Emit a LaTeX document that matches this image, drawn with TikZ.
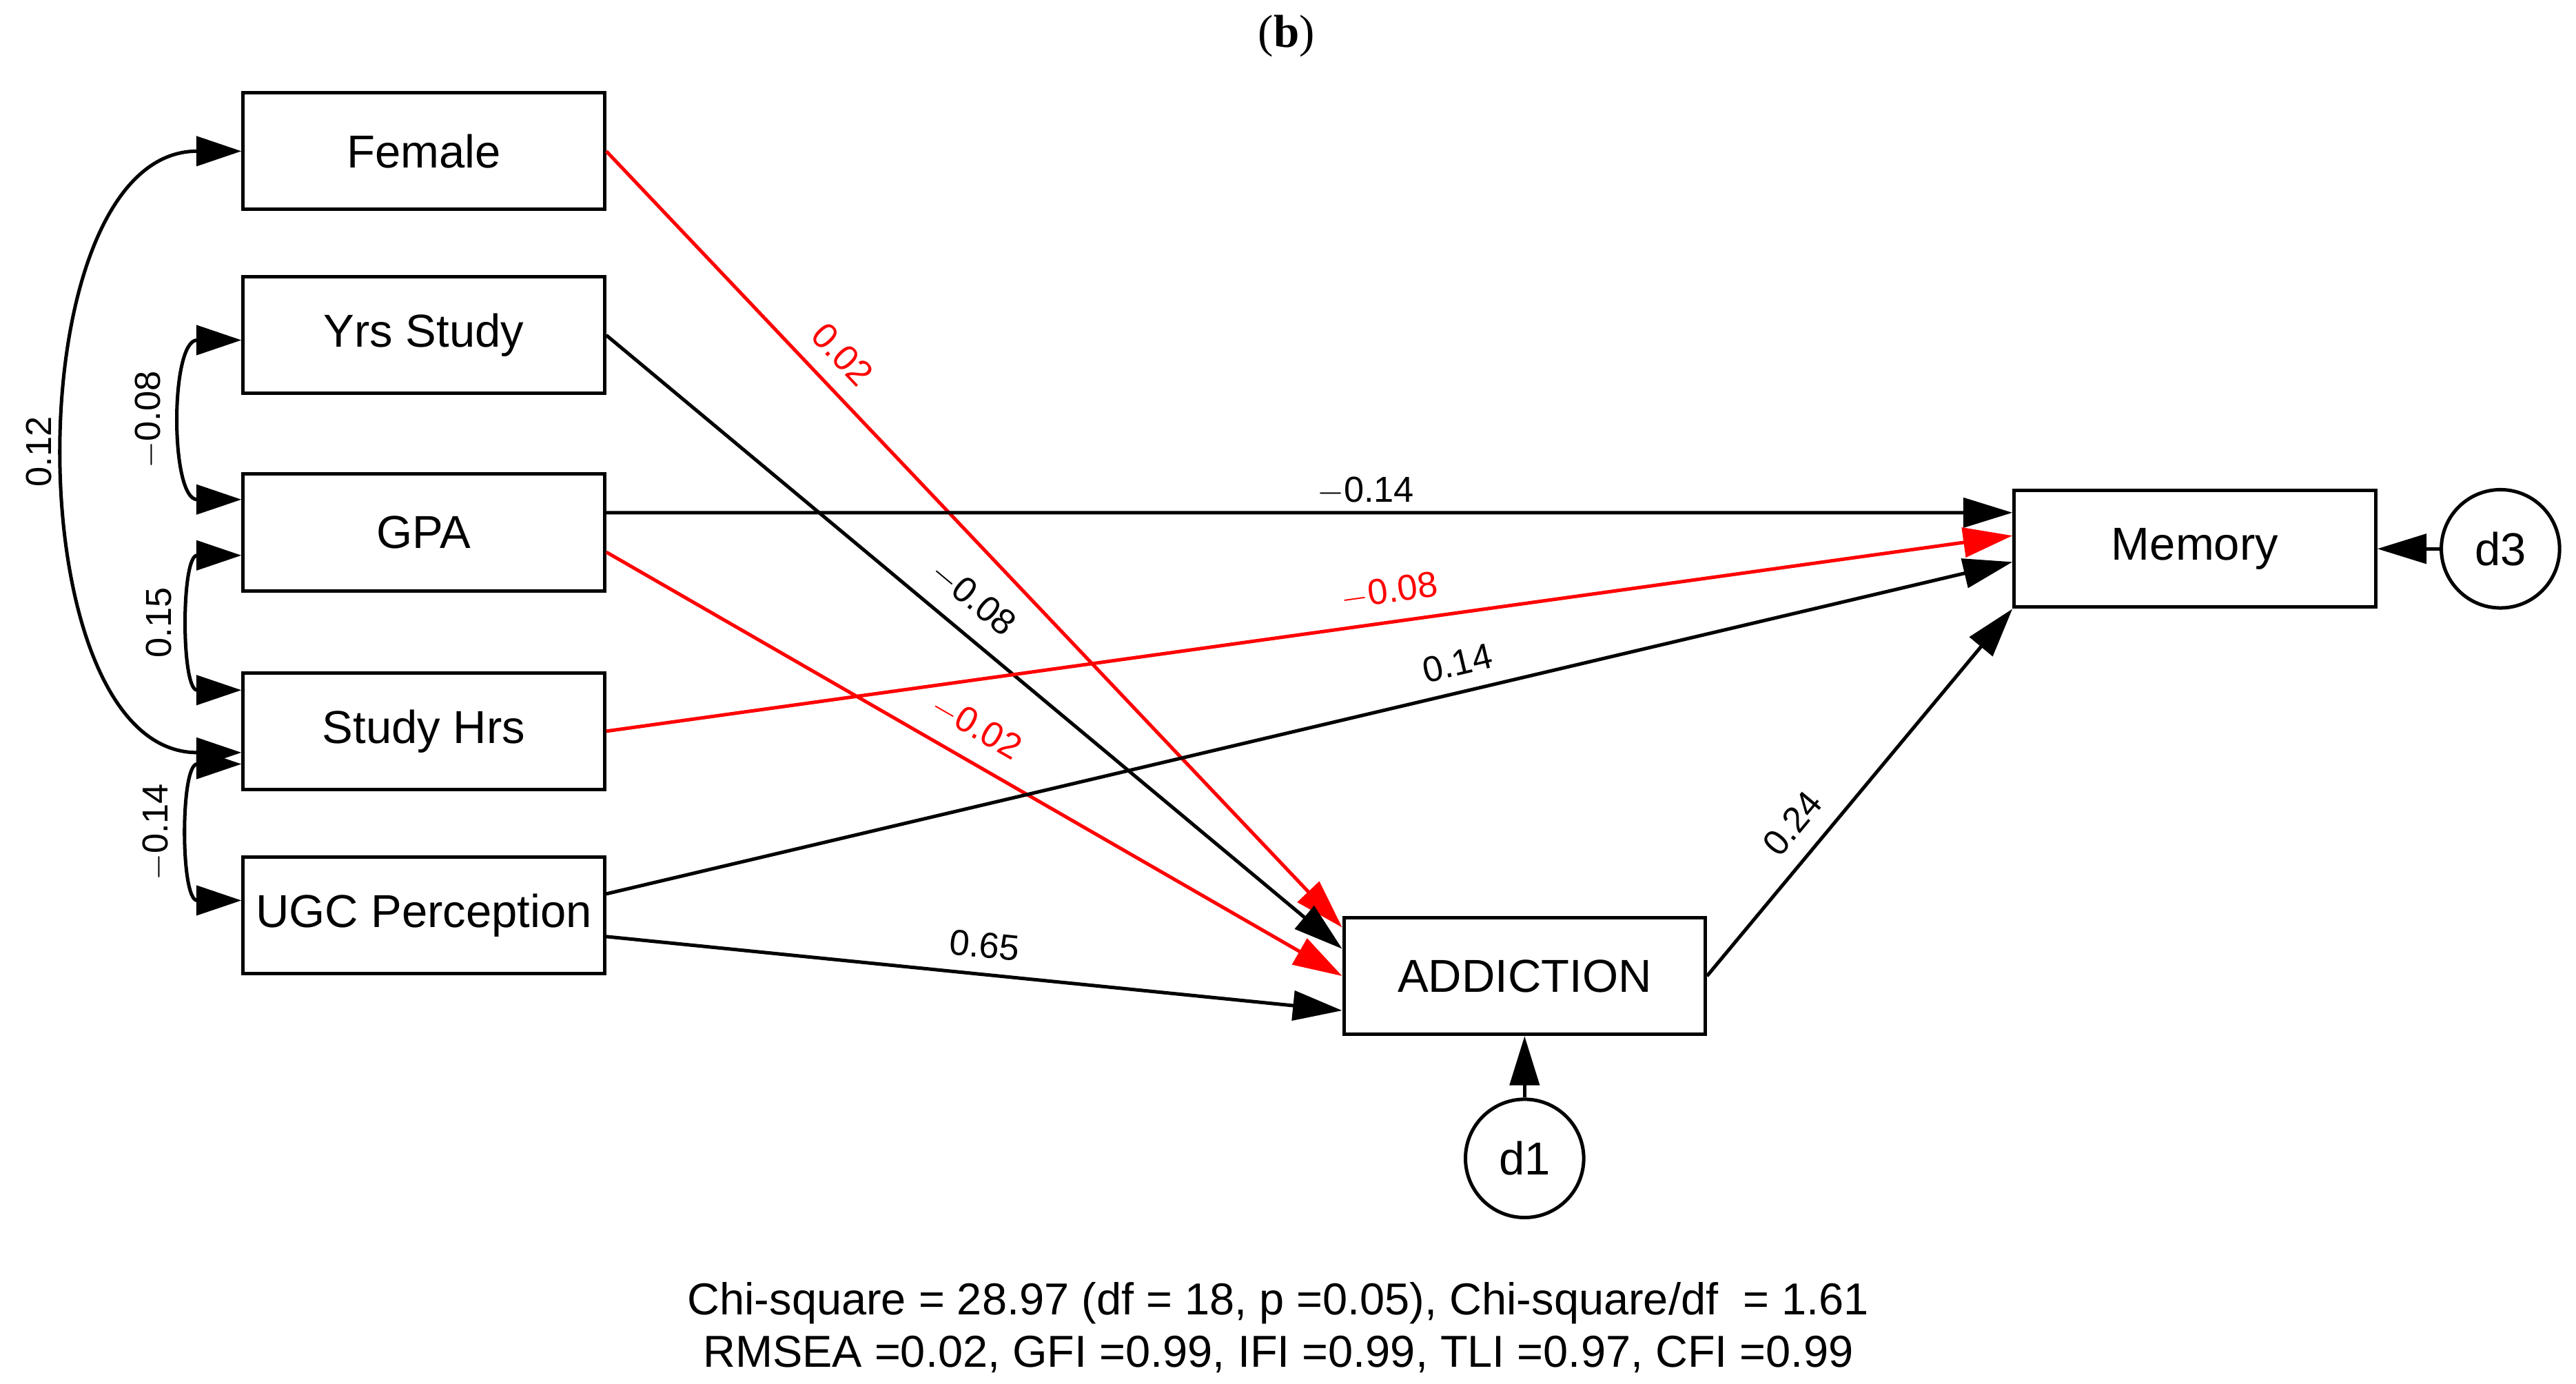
\documentclass[tikz,border=0pt]{standalone}
\usepackage{fontspec}
\setmainfont{Liberation Sans}
\newfontfamily\serifttl{Liberation Serif}
\usetikzlibrary{arrows.meta,positioning,calc}
\tikzstyle{arrow} = [line width=1.2pt, -{Triangle[length=0.6cm,width=0.36cm]}]
\tikzstyle{cov} = [line width=1.2pt, {Triangle[length=0.55cm,width=0.36cm]}-{Triangle[length=0.55cm,width=0.36cm]}]
\begin{document}
\begin{tikzpicture}[x=0.02cm,y=-0.02cm,
  var/.style={draw,line width=1.2pt,minimum width=4.4cm,minimum height=1.42cm,inner sep=0pt,font=\fontsize{16}{19}\selectfont},
  err/.style={draw,line width=1.2pt,circle,minimum size=1.44cm,inner sep=0pt,font=\fontsize{16}{19}\selectfont},
  lab/.style={font=\fontsize{12.5}{15}\selectfont,sloped,above,inner sep=2pt}]
\useasboundingbox (0,0) rectangle (1568,842);
\node[font=\fontsize{16}{19}\selectfont\serifttl] (tit) at (783,22) {(\textbf{b})};
% observed variables
\node[var] (fem) at (258,92) {Female};
\node[var] (yrs) at (258,204) {Yrs Study};
\node[var] (gpa) at (258,324) {GPA};
\node[var] (hrs) at (258,445) {Study Hrs};
\node[var] (ugc) at (258,557) {UGC Perception};
\node[var] (add) at (928,594) {ADDICTION};
\node[var] (mem) at (1336,334) {Memory};
\node[err] (d3) at (1522,334) {d3};
\node[err] (d1) at (928,705) {d1};
% paths
\draw[arrow,red] (fem.east) -- node[lab,pos=.29,above=4pt]{0.02} ([yshift=-0.14cm]add.north west);
\draw[arrow] (yrs.east) -- node[lab,pos=.47,above=4pt]{$-$0.08} ([yshift=-0.4cm]add.north west);
\draw[arrow] ([yshift=0.24cm]gpa.east) -- node[lab,pos=.54]{$-$0.14} ([yshift=0.44cm]mem.west);
\draw[arrow,red] ([yshift=-0.24cm]gpa.east) -- node[lab,pos=.48,above=4pt]{$-$0.02} (add.west);
\draw[arrow,red] (hrs.east) -- node[lab,pos=.56,above=3pt]{$-$0.08} ([yshift=0.16cm]mem.west);
\draw[arrow] ([yshift=0.26cm]ugc.east) -- node[lab,pos=.61,above=3pt]{0.14} ([yshift=-0.16cm]mem.west);
\draw[arrow] ([yshift=-0.26cm]ugc.east) -- node[lab,pos=.51,above=3pt]{0.65} ([yshift=-0.42cm]add.west);
\draw[arrow] (add.east) -- node[lab,pos=.36,above=4pt]{0.24} (mem.south west);
\draw[arrow] (d3) -- (mem);
\draw[arrow] (d1) -- (add);
% covariances
\draw[cov] ([yshift=-0.26cm]hrs.west) to[out=180,in=180,looseness=0.97] node[lab,pos=.5,above=4pt]{0.12} (fem.west);
\draw[cov] ([yshift=0.4cm]gpa.west) to[out=180,in=180,looseness=1.15] node[lab,pos=.5,above=6pt]{$-$0.08} ([yshift=-0.06cm]yrs.west);
\draw[cov] ([yshift=0.5cm]hrs.west) to[out=180,in=180,looseness=1.15] node[lab,pos=.5,above=6pt]{0.15} ([yshift=-0.28cm]gpa.west);
\draw[cov] ([yshift=0.18cm]ugc.west) to[out=180,in=180,looseness=1.15] node[lab,pos=.5,above=6pt]{$-$0.14} ([yshift=-0.4cm]hrs.west);
% fit indices
\node[font=\fontsize{15.5}{18}\selectfont,align=center] (fit) at (778,808)
 {Chi-square = 28.97 (df = 18, p =0.05), Chi-square/df\ \ = 1.61\\RMSEA =0.02, GFI =0.99, IFI =0.99, TLI =0.97, CFI =0.99};
\end{tikzpicture}
\end{document}
